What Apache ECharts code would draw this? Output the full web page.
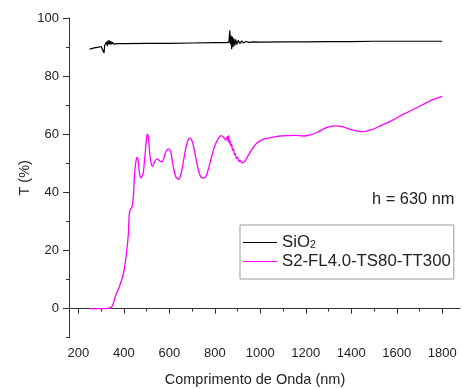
<!DOCTYPE html>
<html>
<head>
<meta charset="utf-8">
<script src="https://cdn.jsdelivr.net/npm/echarts@6/dist/echarts.min.js"></script>
<style>
html,body{margin:0;padding:0;background:#fff;}
#chart{width:463px;height:389px;}
</style>
</head>
<body>
<div id="chart"></div>
<script>
const seriesNames = ['SiO2', 'S2-FL4.0-TS80-TT300'];
const xTickLabels = [200, 400, 600, 800, 1000, 1200, 1400, 1600, 1800];
const xMinorTicks = [300, 500, 700, 900, 1100, 1300, 1500, 1700];
const yTickLabels = [0, 20, 40, 60, 80, 100];
const yMinorTicks = [-10, 10, 30, 50, 70, 90];

const sio2Wl = [250, 270, 290, 300, 308, 313, 316, 320, 324, 328, 331, 334, 337, 340, 343, 346, 350, 355, 362, 370, 400, 500, 600, 700, 800, 850, 862, 866, 868, 871, 874, 877, 880, 884, 888, 892, 897, 903, 910, 918, 926, 936, 950, 970, 1000, 1100, 1200, 1300, 1400, 1500, 1600, 1700, 1800];
const sio2T = [89.3, 89.7, 90.0, 90.2, 90.5, 88.0, 90.6, 90.4, 91.8, 90.3, 92.3, 91.0, 92.2, 90.8, 92.0, 91.0, 91.7, 91.0, 91.4, 91.2, 91.2, 91.3, 91.3, 91.4, 91.5, 91.5, 91.7, 95.8, 91.0, 94.0, 89.3, 93.6, 90.0, 93.0, 90.5, 92.6, 90.9, 92.3, 91.2, 92.1, 91.4, 91.9, 91.6, 91.8, 91.7, 91.8, 91.8, 91.9, 91.9, 92.0, 92.0, 92.0, 92.0];

const sampleWl = [250, 300, 330, 340, 350, 362, 380, 398, 410, 420, 424, 430, 436, 442, 447, 452, 458, 463, 468, 474, 480, 486, 492, 498, 503, 508, 513, 520, 527, 535, 545, 555, 565, 575, 585, 596, 606, 616, 628, 640, 652, 665, 678, 691, 703, 716, 730, 743, 755, 768, 785, 800, 815, 828, 838, 848, 855, 858, 861, 864, 867, 870, 874, 878, 882, 886, 890, 895, 900, 906, 912, 918, 926, 935, 945, 965, 985, 1014, 1050, 1087, 1150, 1190, 1220, 1249, 1290, 1329, 1360, 1395, 1430, 1454, 1490, 1527, 1580, 1630, 1690, 1747, 1800];
const sampleT = [0, 0, 0.1, 0.3, 1.0, 4.0, 7.5, 12.0, 18.0, 25.7, 32.6, 34.3, 35.0, 38.5, 46.0, 50.0, 52.0, 51.0, 47.0, 45.0, 45.5, 47.0, 52.0, 57.0, 60.0, 59.0, 54.0, 50.0, 49.0, 50.5, 51.5, 51.0, 50.5, 51.5, 54.0, 55.0, 54.0, 49.5, 45.5, 44.5, 46.5, 52.0, 57.0, 58.7, 57.0, 52.0, 47.0, 45.0, 45.0, 47.0, 52.0, 56.0, 58.5, 59.5, 59.0, 58.0, 59.2, 57.5, 59.5, 57.0, 57.8, 56.0, 56.5, 54.5, 55.0, 53.0, 53.3, 51.6, 52.0, 50.6, 51.0, 50.2, 50.3, 51.0, 52.5, 55.0, 57.0, 58.3, 58.9, 59.4, 59.6, 59.4, 59.8, 60.6, 62.3, 62.9, 62.6, 61.7, 61.1, 60.9, 61.6, 62.9, 64.8, 66.9, 69.2, 71.5, 73.0];

const FONT = 'Liberation Sans, Arial, sans-serif';
const TXT = '#222';
const AX = '#333';

const chart = echarts.init(document.getElementById('chart'));
const xMin = 159, xMax = 1878;
const plain = v => String(v);

const option = {
  animation: false,
  backgroundColor: '#fff',
  grid: {left: 69, right: 3, top: 18, bottom: 51.3, containLabel: false, outerBoundsMode: 'none'},
  xAxis: [{
    type: 'value', min: xMin, max: xMax,
    name: 'Comprimento de Onda (nm)', nameLocation: 'middle', nameGap: 35, nameMoveOverlap: false,
    nameTextStyle: {fontFamily: FONT, fontSize: 14.5, color: TXT, padding: [0, 19, 0, 0]},
    axisLine: {show: true, lineStyle: {color: AX, width: 1}},
    axisTick: {show: true, customValues: xTickLabels, length: 5, inside: false, lineStyle: {color: AX}},
    axisLabel: {customValues: xTickLabels, formatter: plain, fontFamily: FONT, fontSize: 13, color: TXT, margin: 9},
    splitLine: {show: false}
  }, {
    type: 'value', min: xMin, max: xMax, position: 'bottom',
    axisLine: {show: false},
    axisTick: {show: true, customValues: xMinorTicks, length: 3, lineStyle: {color: AX}},
    axisLabel: {show: false},
    splitLine: {show: false}
  }],
  yAxis: [{
    type: 'value', min: -10, max: 100,
    name: 'T (%)', nameLocation: 'middle', nameGap: 37, nameMoveOverlap: false,
    nameTextStyle: {fontFamily: FONT, fontSize: 14.5, color: TXT},
    axisLine: {show: true, lineStyle: {color: AX, width: 1}},
    axisTick: {show: true, customValues: yTickLabels, length: 6, lineStyle: {color: AX}},
    axisLabel: {customValues: yTickLabels, formatter: plain, fontFamily: FONT, fontSize: 13, color: TXT, margin: 10},
    splitLine: {show: false}
  }, {
    type: 'value', min: -10, max: 100, position: 'left',
    axisLine: {show: false},
    axisTick: {show: true, customValues: yMinorTicks, length: 3, lineStyle: {color: AX}},
    axisLabel: {show: false},
    splitLine: {show: false}
  }],
  legend: {
    orient: 'vertical', left: 240, top: 225,
    backgroundColor: '#fff', borderColor: '#999', borderWidth: 1,
    padding: [9, 3, 9, 3], itemGap: 2,
    itemWidth: 34, itemHeight: 1.2, icon: 'rect',
    data: seriesNames,
    formatter: function (name) {
      if (name === 'SiO2') return '{n|SiO}{s|2}';
      return '{n|' + name + '}';
    },
    textStyle: {
      fontFamily: FONT, color: TXT, fontSize: 16.8,
      rich: {
        n: {fontFamily: FONT, fontSize: 16.8, color: TXT, lineHeight: 17},
        s: {fontFamily: FONT, fontSize: 10.5, color: TXT, lineHeight: 10, verticalAlign: 'bottom'}
      }
    }
  },
  graphic: [{
    type: 'text', left: 372, top: 191,
    style: {text: 'h = 630 nm', font: '16.4px ' + FONT, fill: TXT}
  }],
  series: [{
    name: seriesNames[0], type: 'line', xAxisIndex: 0, yAxisIndex: 0,
    symbol: 'none', smooth: false,
    lineStyle: {color: '#000', width: 1.2},
    itemStyle: {color: '#000'},
    data: sio2Wl.map((w, i) => [w, sio2T[i]])
  }, {
    name: seriesNames[1], type: 'line', xAxisIndex: 0, yAxisIndex: 0,
    symbol: 'none', smooth: 0.3,
    lineStyle: {color: '#ff00ff', width: 1.3},
    itemStyle: {color: '#ff00ff'},
    data: sampleWl.map((w, i) => [w, sampleT[i]])
  }]
};
chart.setOption(option);
</script>
</body>
</html>
